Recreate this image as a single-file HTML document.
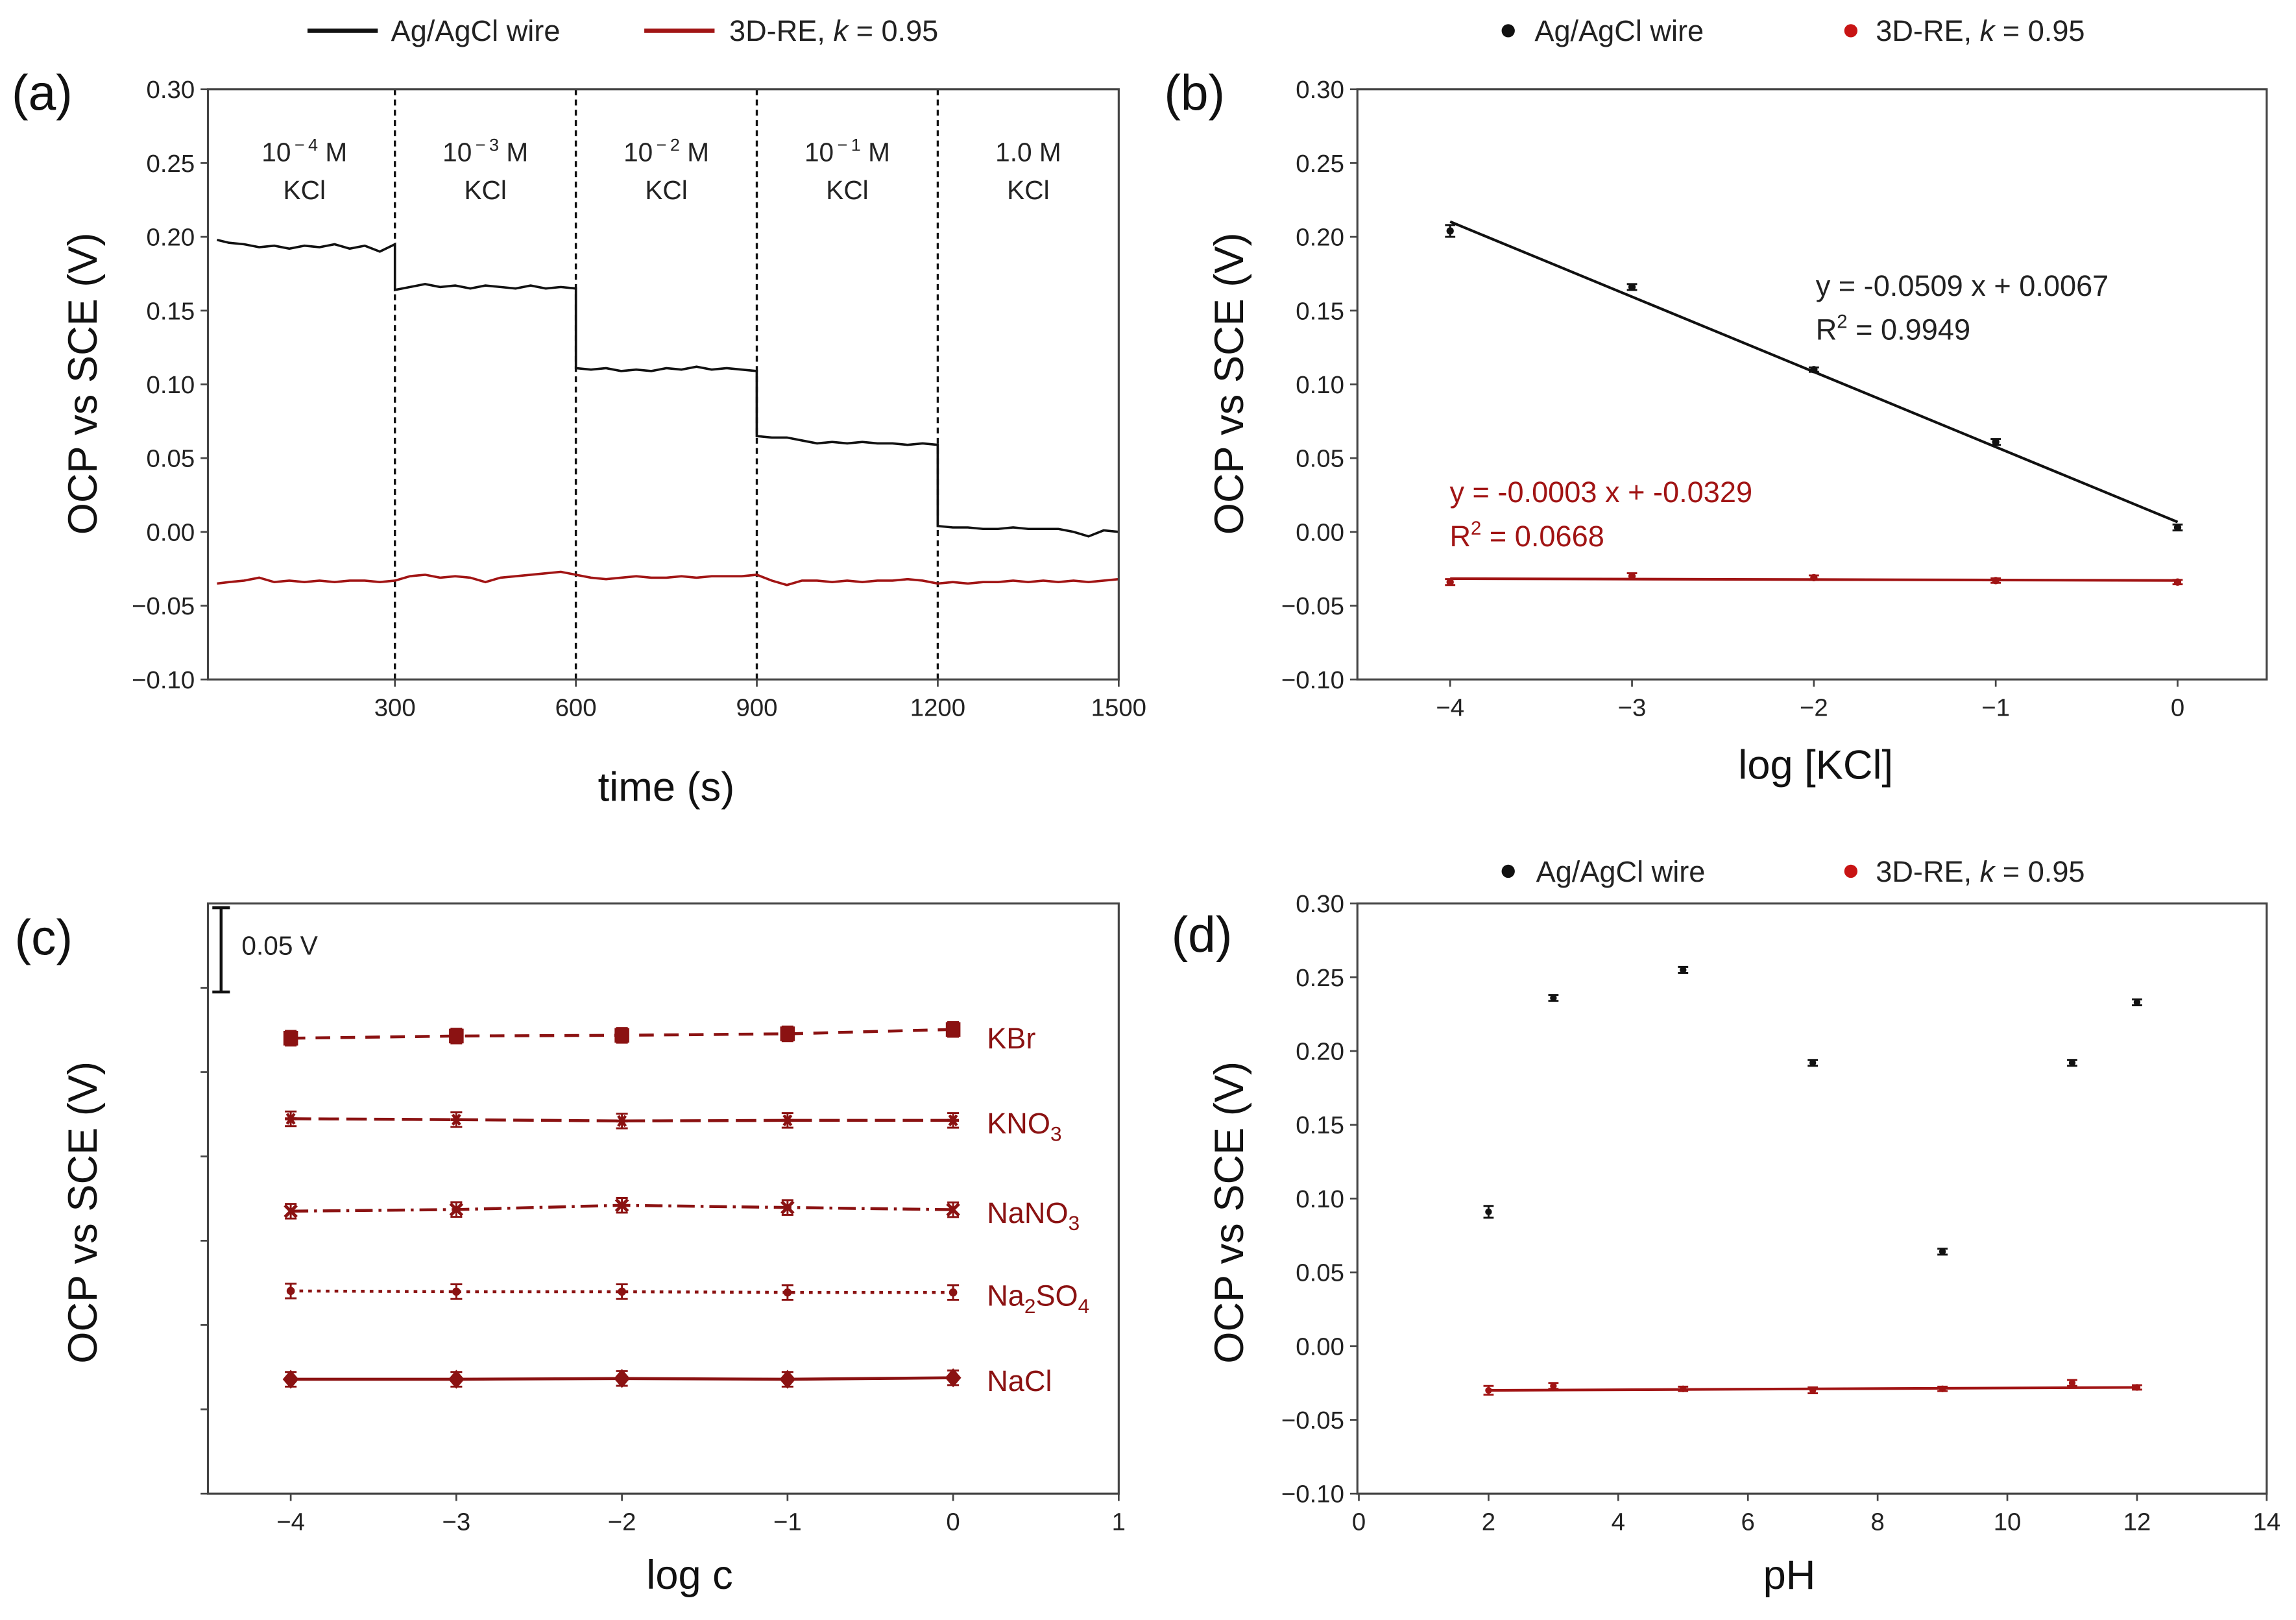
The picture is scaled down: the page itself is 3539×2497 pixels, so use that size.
<!DOCTYPE html>
<html><head><meta charset="utf-8"><style>
html,body{margin:0;padding:0;background:#fff}
svg{display:block}
text{font-family:"Liberation Sans",Arial,sans-serif}
</style></head><body>
<svg id="fig" xmlns="http://www.w3.org/2000/svg" width="3539" height="2497" viewBox="0 0 1568 1106.3" preserveAspectRatio="none">
<rect width="1568" height="1106.3" fill="#fff"/>
</svg>
<script>
// ---------- Panel (a) data ----------
const aSegStarts = [0, 300, 600, 900, 1200];
const aSegLabels = ["10\u2009\u2212\u20094", "10\u2009\u2212\u20093", "10\u2009\u2212\u20092", "10\u2009\u2212\u20091", "1.0"];
const aBlackSeg1 = [0.198,0.196,0.195,0.193,0.194,0.192,0.194,0.193,0.195,0.192,0.194,0.190,0.195];
const aBlackSeg2 = [0.164,0.166,0.168,0.166,0.167,0.165,0.167,0.166,0.165,0.167,0.165,0.166,0.165];
const aBlackSeg3 = [0.111,0.110,0.111,0.109,0.110,0.109,0.111,0.110,0.112,0.110,0.111,0.110,0.109];
const aBlackSeg4 = [0.065,0.064,0.064,0.062,0.060,0.061,0.060,0.061,0.060,0.060,0.059,0.060,0.059];
const aBlackSeg5 = [0.004,0.003,0.003,0.002,0.002,0.003,0.002,0.002,0.002,0.000,-0.003,0.001,0.000];
const aRed = [-0.035,-0.034,-0.033,-0.031,-0.034,-0.033,-0.034,-0.033,-0.034,-0.033,-0.033,-0.034,-0.033,
  -0.030,-0.029,-0.031,-0.030,-0.031,-0.034,-0.031,-0.030,-0.029,-0.028,-0.027,-0.029,
  -0.031,-0.032,-0.031,-0.030,-0.031,-0.031,-0.030,-0.031,-0.030,-0.030,-0.030,-0.029,
  -0.033,-0.036,-0.033,-0.033,-0.034,-0.033,-0.034,-0.033,-0.033,-0.032,-0.033,-0.035,
  -0.034,-0.035,-0.034,-0.034,-0.033,-0.034,-0.033,-0.034,-0.033,-0.034,-0.033,-0.032];
const aTimeStep = 25;
const yTicks = [0.30,0.25,0.20,0.15,0.10,0.05,0.00,-0.05,-0.10];
const aXTicks = [300,600,900,1200,1500];
// ---------- Panel (b) data ----------
const bX = [-4,-3,-2,-1,0];
const bBlack = [0.204,0.166,0.110,0.061,0.003];
const bBlackErr = [0.004,0.002,0.0015,0.002,0.002];
const bRed = [-0.034,-0.030,-0.031,-0.033,-0.034];
const bRedErr = [0.002,0.002,0.0015,0.0015,0.0015];
const bFitBlack = [-0.0509, 0.0067];
const bFitRed = [-0.0003, -0.0329];
const bXTicks = [-4,-3,-2,-1,0];
// ---------- Panel (c) data ----------
const cX = [-4,-3,-2,-1,0];
const cNames = ["KBr","KNO3","NaNO3","Na2SO4","NaCl"];
const cKBr = [-0.0799,-0.0786,-0.0782,-0.0773,-0.0747];
const cKNO3 = [-0.1277,-0.1282,-0.1290,-0.1286,-0.1286];
const cNaNO3 = [-0.1825,-0.1815,-0.1790,-0.1803,-0.1816];
const cNa2SO4 = [-0.2298,-0.2302,-0.2302,-0.2307,-0.2307];
const cNaCl = [-0.2822,-0.2822,-0.2817,-0.2822,-0.2813];
const cXTicks = [-4,-3,-2,-1,0,1];
// ---------- Panel (d) data ----------
const dPH = [2,3,5,7,9,11,12];
const dBlack = [0.091,0.236,0.255,0.192,0.064,0.192,0.233];
const dBlackErr = [0.004,0.002,0.002,0.002,0.002,0.002,0.002];
const dRed = [-0.030,-0.027,-0.029,-0.030,-0.029,-0.025,-0.028];
const dRedErr = [0.003,0.002,0.0015,0.002,0.0015,0.002,0.0015];
const dFitRed = [0.0002,-0.0304];
const dXTicks = [0,2,4,6,8,10,12,14];

const NS="http://www.w3.org/2000/svg";
const svg=document.getElementById('fig');
const RED="#a11414", DRED="#8b1212";
function el(tag,attrs,parent){const e=document.createElementNS(NS,tag);for(const k in attrs)e.setAttribute(k,attrs[k]);(parent||svg).appendChild(e);return e;}
function txt(x,y,s,size,anchor,fill,parent){const t=el('text',{x:x,y:y,'font-size':size,'text-anchor':anchor||'start',fill:fill||'#222'},parent);t.textContent=s;return t;}
function scale(d0,d1,r0,r1){return v=>r0+(v-d0)*(r1-r0)/(d1-d0);}
function frame(g,x0,y0,x1,y1){el('rect',{x:x0,y:y0,width:x1-x0,height:y1-y0,fill:'none',stroke:'#444','stroke-width':1.4},g);}
function yAxis(g,sy,x0,ticks,labels){ticks.forEach(v=>{const y=sy(v);el('line',{x1:x0-5,y1:y,x2:x0,y2:y,stroke:'#444','stroke-width':1.2},g);
 if(labels){const t=txt(x0-9,y+6,(v<0?'\u2212':'')+Math.abs(v).toFixed(2),17,'end','#222',g);}});}
function xAxis(g,sx,y0,ticks,fmt){ticks.forEach(v=>{const x=sx(v);el('line',{x1:x,y1:y0,x2:x,y2:y0+5,stroke:'#444','stroke-width':1.2},g);
 const t=txt(x,y0+25,fmt(v),17,'middle','#222',g);});}
function ylabel(g,x,y,s){const t=txt(0,0,s,28,'middle','#111',g);t.setAttribute('transform',`translate(${x},${y}) rotate(-90)`);}
function errpt(g,x,y,yt,yb,color,r){el('line',{x1:x,y1:yt,x2:x,y2:yb,stroke:color,'stroke-width':1.3},g);
 el('line',{x1:x-3.5,y1:yt,x2:x+3.5,y2:yt,stroke:color,'stroke-width':1.3},g);el('line',{x1:x-3.5,y1:yb,x2:x+3.5,y2:yb,stroke:color,'stroke-width':1.3},g);
 const c=el('circle',{cx:x,cy:y,r:r,fill:color},g);}
const fmtSigned=v=>(v<0?'\u2212':'')+Math.abs(v);

// ===== Panel (a) =====
(function(){
const g=el('g',{});
const X0=142,X1=764,Y0=61,Y1=464;
const sx=scale(-10,1500,X0,X1), sy=scale(0.30,-0.10,Y0,Y1);
// legend
const lg=el('g',{},g);
el('line',{x1:210,y1:21,x2:258,y2:21,stroke:'#111','stroke-width':3},lg);txt(267,28,'Ag/AgCl wire',20,'start','#222',lg);
el('line',{x1:440,y1:21,x2:488,y2:21,stroke:RED,'stroke-width':3},lg);
const t2=txt(498,28,'3D-RE, ',20,'start','#222',lg);const ts=el('tspan',{'font-style':'italic'},t2);ts.textContent='k';const ts2=el('tspan',{},t2);ts2.textContent=' = 0.95';
txt(8,75,'(a)',34,'start','#111',g);
// dividers
aSegStarts.slice(1).forEach(t=>{const l=el('line',{x1:sx(t),y1:Y0,x2:sx(t),y2:Y1,stroke:'#111','stroke-width':1.5,'stroke-dasharray':'4,3'},g);});
// labels
aSegStarts.forEach((t,i)=>{const cx=sx(t+150);const tt=txt(cx-12,110,'',18,'middle','#222',g);
 if(i<4){const a=el('tspan',{},tt);a.textContent='10';const b=el('tspan',{'font-size':12,dy:-7},tt);b.textContent='\u2009\u2212\u2009'+(4-i);const c=el('tspan',{dy:7},tt);c.textContent=' M';tt.setAttribute('x',cx);}
 else{tt.textContent='1.0 M';tt.setAttribute('x',cx);}
 
 txt(cx,136,'KCl',18,'middle','#222',g);});
// black
const segs=[aBlackSeg1,aBlackSeg2,aBlackSeg3,aBlackSeg4,aBlackSeg5];
let d='';segs.forEach((s,i)=>{s.forEach((v,j)=>{const t=aSegStarts[i]+j*aTimeStep;d+=(j===0&&i===0?'M':'L')+sx(Math.max(t,5)).toFixed(1)+','+sy(v).toFixed(1);});});
const pb=el('path',{d:d,fill:'none',stroke:'#111','stroke-width':1.6},g);
let dr='';aRed.forEach((v,j)=>{dr+=(j?'L':'M')+sx(Math.max(j*aTimeStep,5)).toFixed(1)+','+sy(v).toFixed(1);});
const pr=el('path',{d:dr,fill:'none',stroke:RED,'stroke-width':1.6},g);
frame(g,X0,Y0,X1,Y1);yAxis(g,sy,X0,yTicks,true);xAxis(g,sx,Y1,aXTicks,v=>''+v);
ylabel(g,66,262,'OCP vs SCE (V)');
const xl=txt(455,547,'time (s)',28,'middle','#111',g);
})();

// ===== Panel (b) =====
(function(){
const g=el('g',{});
const X0=927,X1=1548,Y0=61,Y1=464;
const sx=scale(-4.51,0.49,X0,X1), sy=scale(0.30,-0.10,Y0,Y1);
const lg=el('g',{},g);
el('circle',{cx:1030,cy:21,r:4.5,fill:'#111'},lg);txt(1048,28,'Ag/AgCl wire',20,'start','#222',lg);
el('circle',{cx:1264,cy:21,r:4.5,fill:'#c81414'},lg);
const t2=txt(1281,28,'3D-RE, ',20,'start','#222',lg);const ts=el('tspan',{'font-style':'italic'},t2);ts.textContent='k';const ts2=el('tspan',{},t2);ts2.textContent=' = 0.95';
txt(795,75,'(b)',34,'start','#111',g);
const fb=el('line',{x1:sx(-4),y1:sy(bFitBlack[0]*-4+bFitBlack[1]),x2:sx(0),y2:sy(bFitBlack[1]),stroke:'#111','stroke-width':1.8},g);
const fr=el('line',{x1:sx(-4),y1:sy(bFitRed[0]*-4+bFitRed[1]),x2:sx(0),y2:sy(bFitRed[1]),stroke:RED,'stroke-width':1.8},g);
bX.forEach((x,i)=>{errpt(g,sx(x),sy(bBlack[i]),sy(bBlack[i]+bBlackErr[i]),sy(bBlack[i]-bBlackErr[i]),'#111',2.5);
 errpt(g,sx(x),sy(bRed[i]),sy(bRed[i]+bRedErr[i]),sy(bRed[i]-bRedErr[i]),RED,2.5);});
txt(1240,202,'y = -0.0509 x + 0.0067',20,'start','#222',g);
const r1=txt(1240,232,'R',20,'start','#222',g);const s1=el('tspan',{'font-size':13,dy:-8},r1);s1.textContent='2';const s1b=el('tspan',{dy:8},r1);s1b.textContent=' = 0.9949';
txt(990,343,'y = -0.0003 x + -0.0329',20,'start',RED,g);
const r2=txt(990,373,'R',20,'start',RED,g);const s2=el('tspan',{'font-size':13,dy:-8},r2);s2.textContent='2';const s2b=el('tspan',{dy:8},r2);s2b.textContent=' = 0.0668';
frame(g,X0,Y0,X1,Y1);yAxis(g,sy,X0,yTicks,true);xAxis(g,sx,Y1,bXTicks,fmtSigned);
ylabel(g,849,262,'OCP vs SCE (V)');
const xl=txt(1240,532,'log [KCl]',28,'middle','#111',g);
})();

// ===== Panel (c) =====
(function(){
const g=el('g',{});
const X0=142,X1=764,Y0=617,Y1=1020;
const sx=scale(-4.5,1,X0,X1), sy=scale(0,-0.35,Y0,Y1);
txt(10,652,'(c)',34,'start','#111',g);
// scale bar
const sb=el('g',{},g);
el('line',{x1:151,y1:sy(-0.0025),x2:151,y2:sy(-0.0525),stroke:'#111','stroke-width':2},sb);
el('line',{x1:145,y1:sy(-0.0025),x2:157,y2:sy(-0.0025),stroke:'#111','stroke-width':2},sb);
el('line',{x1:145,y1:sy(-0.0525),x2:157,y2:sy(-0.0525),stroke:'#111','stroke-width':2},sb);
txt(165,652,'0.05 V',18,'start','#222',sb);
const series=[cKBr,cKNO3,cNaNO3,cNa2SO4,cNaCl];
const dashes=['10,7','14,5','12,4,2,4','2.5,3.5',''];
const markers=['square','star','x','small','diamond'];
series.forEach((s,k)=>{
 const sg=el('g',{},g);
 let d='';s.forEach((v,i)=>{d+=(i?'L':'M')+sx(cX[i]).toFixed(1)+','+sy(v).toFixed(1);});
 el('path',{d:d,fill:'none',stroke:DRED,'stroke-width':2,'stroke-dasharray':dashes[k]},sg);
 s.forEach((v,i)=>{const x=sx(cX[i]),y=sy(v);
  el('line',{x1:x,y1:y-5,x2:x,y2:y+5,stroke:DRED,'stroke-width':1.3},sg);
  el('line',{x1:x-4,y1:y-5,x2:x+4,y2:y-5,stroke:DRED,'stroke-width':1.3},sg);el('line',{x1:x-4,y1:y+5,x2:x+4,y2:y+5,stroke:DRED,'stroke-width':1.3},sg);
  let m;
  if(markers[k]==='square')m=el('rect',{x:x-5,y:y-5,width:10,height:10,fill:DRED},sg);
  else if(markers[k]==='diamond')m=el('path',{d:`M${x},${y-6.5}L${x+5.5},${y}L${x},${y+6.5}L${x-5.5},${y}Z`,fill:DRED},sg);
  else if(markers[k]==='x')m=el('path',{d:`M${x-4},${y-4}L${x+4},${y+4}M${x+4},${y-4}L${x-4},${y+4}`,stroke:DRED,'stroke-width':2.2},sg);
  else if(markers[k]==='star')m=el('path',{d:`M${x-4},${y}L${x+4},${y}M${x-2.5},${y-3.5}L${x+2.5},${y+3.5}M${x+2.5},${y-3.5}L${x-2.5},${y+3.5}`,stroke:DRED,'stroke-width':2},sg);
  else m=el('circle',{cx:x,cy:y,r:2.8,fill:DRED},sg);
  });
});
// labels
const lab=[['KBr',''],['KNO','3'],['NaNO','3'],['Na','2','SO','4'],['NaCl','']];
series.forEach((s,k)=>{const y=sy(s[4])+(k===0?13:9);const t=txt(674,y,'',20,'start',DRED,g);
 
 const parts=lab[k];parts.forEach((p,j)=>{if(!p)return;const ts=el('tspan',j%2?{'font-size':14,dy:5}:{'font-size':20,dy:(j>0?-5:0)},t);ts.textContent=p;});});
frame(g,X0,Y0,X1,Y1);
[-0.05,-0.10,-0.15,-0.20,-0.25,-0.30,-0.35].forEach(v=>el('line',{x1:X0-5,y1:sy(v),x2:X0,y2:sy(v),stroke:'#444','stroke-width':1.2},g));
xAxis(g,sx,Y1,cXTicks,fmtSigned);
ylabel(g,66,828,'OCP vs SCE (V)');
const xl=txt(471,1085,'log c',28,'middle','#111',g);
})();

// ===== Panel (d) =====
(function(){
const g=el('g',{});
const X0=927,X1=1548,Y0=617,Y1=1020;
const sx=scale(0,14,X0+1,X1), sy=scale(0.30,-0.10,Y0,Y1);
const lg=el('g',{},g);
el('circle',{cx:1030,cy:595,r:4.5,fill:'#111'},lg);txt(1049,602,'Ag/AgCl wire',20,'start','#222',lg);
el('circle',{cx:1264,cy:595,r:4.5,fill:'#c81414'},lg);
const t2=txt(1281,602,'3D-RE, ',20,'start','#222',lg);const ts=el('tspan',{'font-style':'italic'},t2);ts.textContent='k';const ts2=el('tspan',{},t2);ts2.textContent=' = 0.95';
txt(800,650,'(d)',34,'start','#111',g);
const fr=el('line',{x1:sx(2),y1:sy(dFitRed[0]*2+dFitRed[1]),x2:sx(12),y2:sy(dFitRed[0]*12+dFitRed[1]),stroke:RED,'stroke-width':1.8},g);
dPH.forEach((x,i)=>{errpt(g,sx(x),sy(dBlack[i]),sy(dBlack[i]+dBlackErr[i]),sy(dBlack[i]-dBlackErr[i]),'#111',2.3);
 errpt(g,sx(x),sy(dRed[i]),sy(dRed[i]+dRedErr[i]),sy(dRed[i]-dRedErr[i]),RED,2.3);});
frame(g,X0,Y0,X1,Y1);yAxis(g,sy,X0,yTicks,true);xAxis(g,sx,Y1,dXTicks,v=>''+v);
ylabel(g,849,828,'OCP vs SCE (V)');
const xl=txt(1222,1085,'pH',28,'middle','#111',g);
})();
</script>
</body></html>
